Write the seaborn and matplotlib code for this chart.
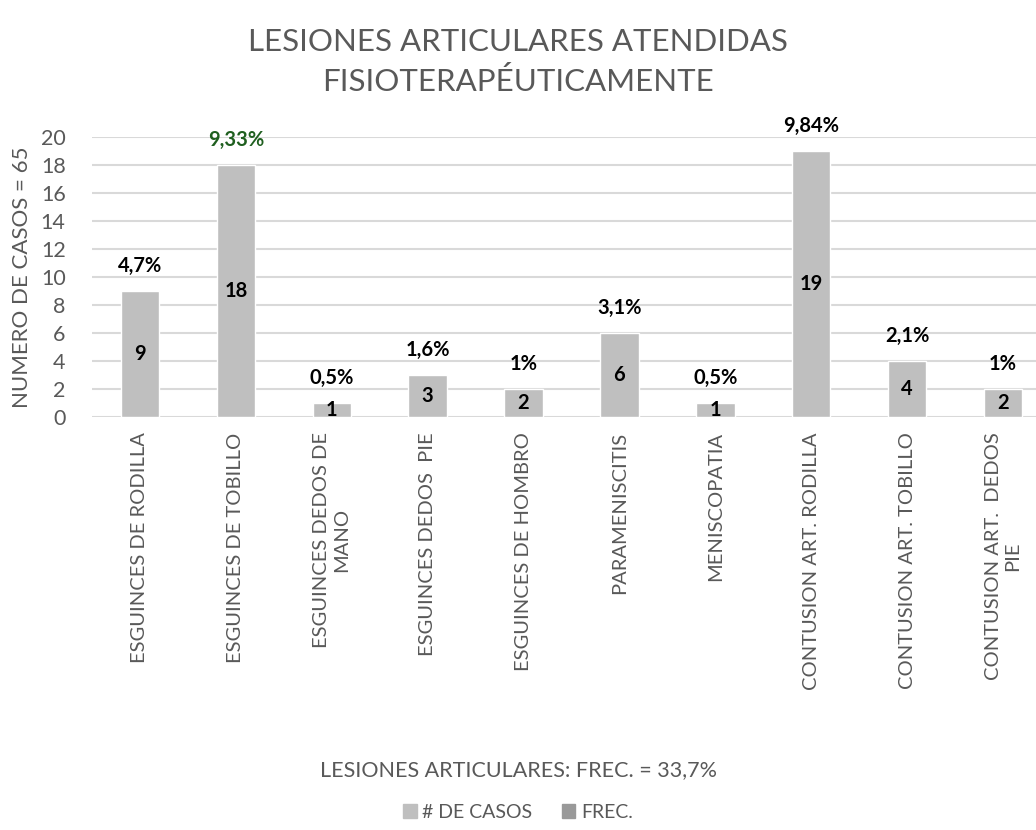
import pandas as pd
import matplotlib
matplotlib.use('Agg')
import matplotlib.pyplot as plt
from matplotlib.patches import Patch
import seaborn as sns

# datos del gráfico
categorias = ['ESGUINCES DE RODILLA', 'ESGUINCES DE TOBILLO', 'ESGUINCES DEDOS DE\nMANO',
              'ESGUINCES DEDOS  PIE', 'ESGUINCES DE HOMBRO', 'PARAMENISCITIS',
              'MENISCOPATIA', 'CONTUSION ART. RODILLA', 'CONTUSION ART. TOBILLO',
              'CONTUSION ART.  DEDOS\nPIE']
casos = [9, 18, 1, 3, 2, 6, 1, 19, 4, 2]
frec = ['4,7%', '9,33%', '0,5%', '1,6%', '1%', '3,1%', '0,5%', '9,84%', '2,1%', '1%']
y_ticks = [0, 2, 4, 6, 8, 10, 12, 14, 16, 18, 20]

sns.set_style('white')
plt.rcParams['font.family'] = ['Lato', 'DejaVu Sans']
gris_txt = '#595959'
gris_barra = '#BFBFBF'
gris_frec = '#999999'

df = pd.DataFrame({'cat': categorias, 'casos': casos, 'frec': frec})

fig = plt.figure(figsize=(10.36, 8.3), dpi=100)
ax = fig.add_axes([92 / 1036, 1 - 417 / 830, 959 / 1036, 280 / 830])

sns.barplot(data=df, x='cat', y='casos', color=gris_barra, width=0.4,
            saturation=1, ax=ax, zorder=3)

ax.set_ylim(0, 20)
ax.set_yticks(y_ticks)
ax.grid(axis='y', color='#D9D9D9', linewidth=1.5, zorder=0)
ax.set_axisbelow(True)
for s in ['top', 'right', 'left', 'bottom']:
    ax.spines[s].set_visible(False)
ax.tick_params(axis='both', length=0, colors=gris_txt)
ax.tick_params(axis='y', pad=19, labelsize=15.5)
ax.tick_params(axis='x', pad=11)
ax.set_xticks(range(len(categorias)))
ax.set_xticklabels(categorias, rotation=90, ha='center', va='top',
                   multialignment='center', fontsize=14.5, color=gris_txt)
ax.set_xlabel('')
ax.set_ylabel('NUMERO DE CASOS = 65', fontsize=16, color=gris_txt, labelpad=6)

# etiquetas de valores
for i, (c, f) in enumerate(zip(casos, frec)):
    ax.text(i, c / 2, str(c), ha='center', va='center', fontsize=14.5,
            fontweight='bold', color='black', zorder=4)
    col = '#1F5F1F' if i == 1 else 'black'
    ax.annotate(f, (i, c), xytext=(0, 11), textcoords='offset points',
                ha='center', va='bottom', fontsize=14.5, fontweight='bold', color=col)

fig.text(0.5, 1 - 62 / 830, 'LESIONES ARTICULARES ATENDIDAS\nFISIOTERAPÉUTICAMENTE',
         ha='center', va='center', fontsize=22.5, color=gris_txt, linespacing=1.45)
fig.text(0.5, 1 - 770 / 830, 'LESIONES ARTICULARES: FREC. = 33,7%',
         ha='center', va='center', fontsize=15.5, color=gris_txt)

handles = [Patch(color=gris_barra, label='# DE CASOS'), Patch(color=gris_frec, label='FREC.')]
fig.legend(handles=handles, loc='center', bbox_to_anchor=(0.5, 1 - 812 / 830), ncol=2,
           frameon=False, fontsize=14, labelcolor=gris_txt, handlelength=0.7,
           handleheight=0.7, handletextpad=0.3, columnspacing=1.5)

plt.savefig('out.png', dpi=100)
plt.close()
